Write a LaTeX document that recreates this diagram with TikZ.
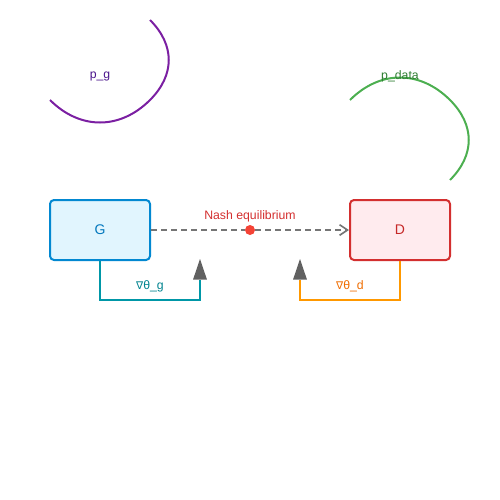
\documentclass[tikz,border=0pt]{standalone}
\usepackage{fontspec}
\setmainfont{Liberation Sans}
\newfontfamily\symfont{DejaVu Sans}
\usetikzlibrary{arrows.meta}
\definecolor{gfill}{HTML}{E1F5FE}
\definecolor{gdraw}{HTML}{0288D1}
\definecolor{gtext}{HTML}{0277BD}
\definecolor{dfill}{HTML}{FFEBEE}
\definecolor{ddraw}{HTML}{D32F2F}
\definecolor{dtext}{HTML}{C62828}
\definecolor{eqred}{HTML}{F44336}
\definecolor{eqtext}{HTML}{D32F2F}
\definecolor{dashgray}{HTML}{757575}
\definecolor{arrgray}{HTML}{616161}
\definecolor{tealc}{HTML}{0097A7}
\definecolor{tealtext}{HTML}{00838F}
\definecolor{orangec}{HTML}{FF9800}
\definecolor{orangetext}{HTML}{EF6C00}
\definecolor{purplec}{HTML}{7B1FA2}
\definecolor{purpletext}{HTML}{4A148C}
\definecolor{greenc}{HTML}{4CAF50}
\definecolor{greentext}{HTML}{2E7D32}
\begin{document}
\begin{tikzpicture}[x=0.75pt,y=-0.75pt,
  box/.style={rounded corners=3pt,line width=1.5pt,minimum width=75pt,minimum height=45pt,inner sep=0pt,font=\fontsize{10.5pt}{12pt}\selectfont},
  lbl/.style={inner sep=0pt,font=\fontsize{9.2pt}{11pt}\selectfont},
  fb/.style={line width=1.5pt,-{Triangle[length=15.5pt,width=10.5pt,line width=0pt,fill=arrgray,color=arrgray]}},
  curve/.style={line width=1.5pt}]
\useasboundingbox (0,0) rectangle (500,500);
\node[box,draw=gdraw,fill=gfill,text=gtext] (G) at (100,230) {G};
\node[box,draw=ddraw,fill=dfill,text=dtext] (D) at (400,230) {D};
\node[circle,fill=eqred,inner sep=0pt,minimum size=7.5pt] (eq) at (250,230) {};
\node[lbl,text=eqtext] (eqlbl) at (250,216) {Nash equilibrium};
\draw[dashgray,line width=1.2pt,dash pattern=on 4.5pt off 3pt] (G.east) -- (eq.west);
\draw[dashgray,line width=1.2pt,dash pattern=on 4.5pt off 3pt,-{Straight Barb[length=6pt,width=8pt]}] (eq.east) -- (D.west);
\coordinate (g1) at (100,300);
\coordinate (g2) at (200,300);
\coordinate (gt) at (200,259);
\draw[fb,tealc] (G.south) -- (g1) -- (g2) -- (gt);
\coordinate (d1) at (400,300);
\coordinate (d2) at (300,300);
\coordinate (dt) at (300,259);
\draw[fb,orangec] (D.south) -- (d1) -- (d2) -- (dt);
\node[lbl,text=tealtext] (gradg) at (150,286) {{\symfont\fontsize{8pt}{10pt}\selectfont ∇}θ\_g};
\node[lbl,text=orangetext] (gradd) at (350,286) {{\symfont\fontsize{8pt}{10pt}\selectfont ∇}θ\_d};
\coordinate (pg0) at (50,100);
\coordinate (pg1) at (150,100);
\coordinate (pg2) at (150,20);
\draw[curve,purplec] (pg0) .. controls (80,130) and (120,130) .. (pg1)
  .. controls (175,75) and (175,45) .. (pg2);
\coordinate (pd0) at (350,100);
\coordinate (pd1) at (450,100);
\coordinate (pd2) at (450,180);
\draw[curve,greenc] (pd0) .. controls (380,70) and (420,70) .. (pd1)
  .. controls (475,125) and (475,155) .. (pd2);
\node[lbl,text=purpletext] (pglbl) at (100,76) {p\_g};
\node[lbl,text=greentext] (pdlbl) at (400,76) {p\_data};
\end{tikzpicture}
\end{document}
